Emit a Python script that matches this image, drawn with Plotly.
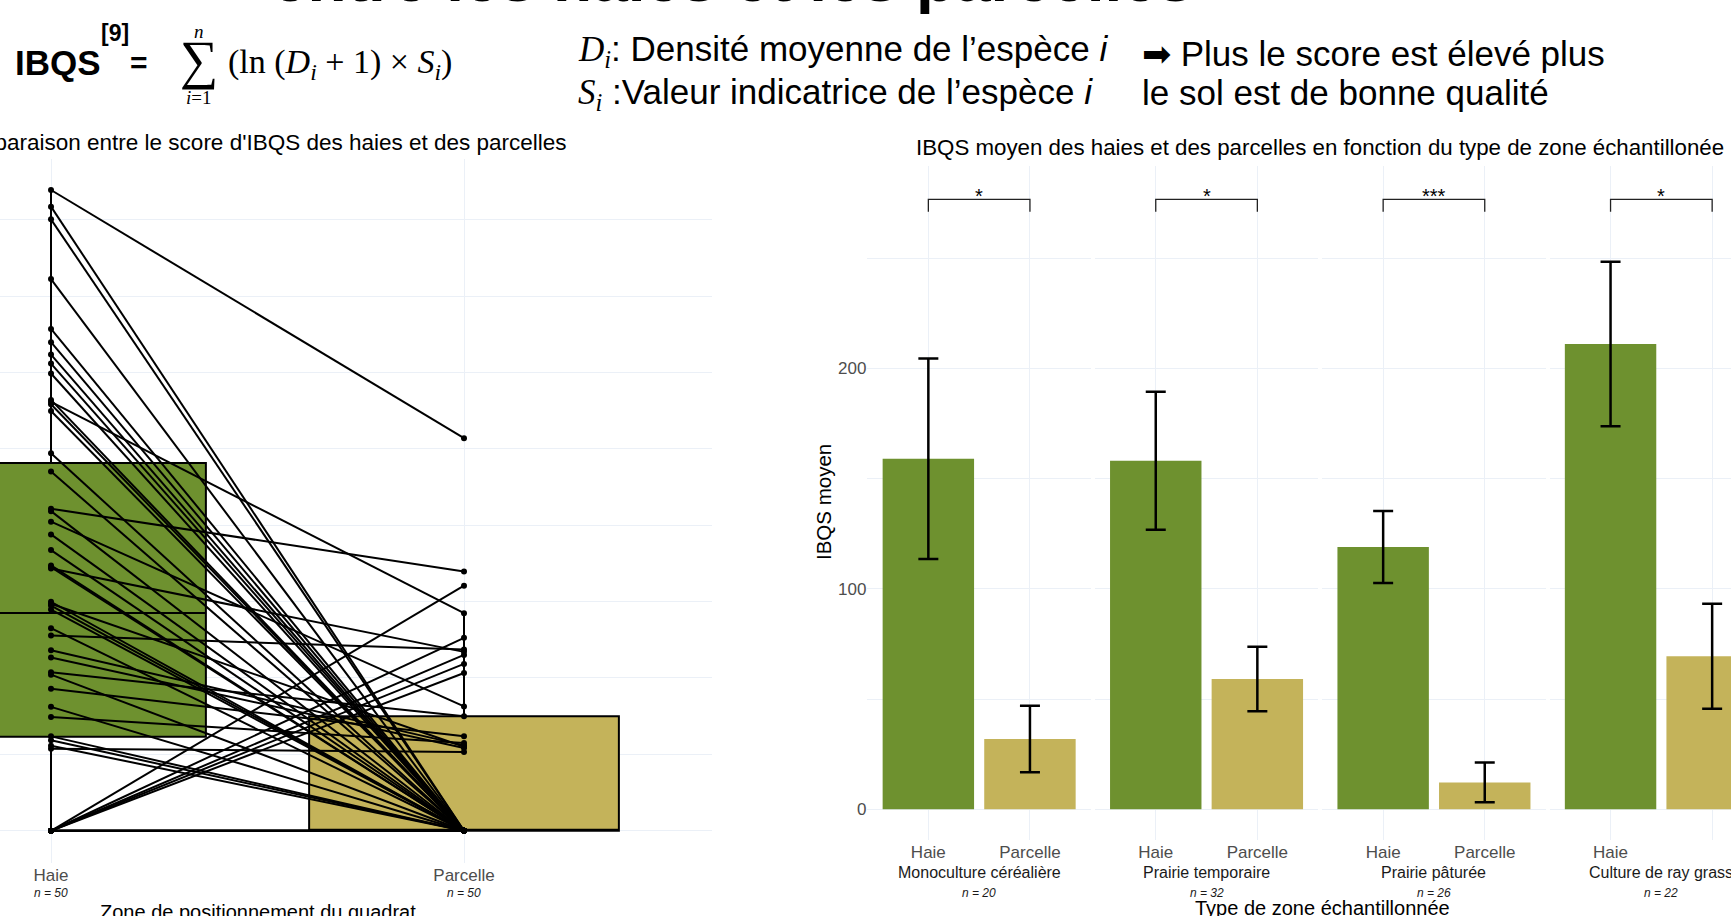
import plotly.graph_objects as go

W, H = 1731, 916
GREEN = "#6E912F"
GOLD = "#C4B35A"
GRID = "#EBF0F7"
TICK = "#4D4D4D"
SANS = "Liberation Sans, Arial, sans-serif"
SERIF = "Liberation Serif, Times New Roman, serif"

# ---------------- data : left panel (paired IBQS per quadrat) ----------------
zones_pos = ["Haie", "Parcelle"]
n_left = [50, 50]
haie_ibqs = [419.4, 408.5, 400.2, 361.1, 328.5, 319.8, 311.7, 305.8, 299.3, 280.7,
             279.2, 274.8, 247.1, 235.1, 210.8, 209.2, 202.3, 194.0, 183.7, 173.7,
             171.7, 149.9, 147.4, 144.8, 132.6, 127.8, 118.2, 113.4, 103.7, 102.2,
             92.9, 81.1, 74.5, 61.8, 59.2, 55.7, 53.7, 282.0, 172.5, 148.6,
             0, 0, 0, 0, 0, 0, 0, 0, 0, 0]
parcelle_ibqs = [257.0, 0, 0, 0, 0, 0, 0, 0, 0, 142.4,
                 0, 0, 0, 0, 169.7, 0, 81.4, 0, 0, 0,
                 117.1, 0, 0, 0, 0, 118.6, 55.9, 54.2, 74.9, 0,
                 61.8, 0, 57.5, 0, 0, 0, 51.6, 0, 0, 55.0,
                 160.4, 126.3, 115.1, 109.2, 103.3, 0, 0, 0, 0, 0]
# box statistics: q1, median, q3, lower fence, upper fence
haie_box = [61.6, 142.5, 240.8, 0.0, 419.4]
parcelle_box = [0.0, 0.0, 74.9, 0.0, 142.4]

# ---------------- data : right panel (mean IBQS by zone type) ----------------
zones = ["Monoculture céréalière", "Prairie temporaire", "Prairie pâturée", "Culture de ray grass"]
zone_n = [20, 32, 26, 22]
haie_mean = [159.0, 158.1, 119.0, 211.1]
haie_err = [45.5, 31.3, 16.3, 37.3]
parc_mean = [31.9, 59.1, 12.2, 69.4]
parc_err = [15.1, 14.6, 9.0, 23.8]
signif = ["*", "*", "***", "*"]
bracket_low, bracket_high = 271.0, 276.6


def px(x):
    return x / W


def py(y):
    return 1 - y / H


fig = go.Figure()

# ---- left panel ----
for i, (stats, col) in enumerate([(haie_box, GREEN), (parcelle_box, GOLD)]):
    fig.add_trace(go.Box(
        x=[i + 1], q1=[stats[0]], median=[stats[1]], q3=[stats[2]],
        lowerfence=[stats[3]], upperfence=[stats[4]],
        width=0.75, fillcolor=col, line=dict(color="black", width=2),
        whiskerwidth=0, boxpoints=False, showlegend=False, xaxis="x", yaxis="y"))

lx, ly = [], []
for h, p in zip(haie_ibqs, parcelle_ibqs):
    lx += [1, 2, None]
    ly += [h, p, None]
fig.add_trace(go.Scatter(x=lx, y=ly, mode="lines", line=dict(color="black", width=2),
                         showlegend=False, xaxis="x", yaxis="y"))
fig.add_trace(go.Scatter(x=[1] * len(haie_ibqs) + [2] * len(parcelle_ibqs),
                         y=haie_ibqs + parcelle_ibqs, mode="markers",
                         marker=dict(color="black", size=6), showlegend=False,
                         xaxis="x", yaxis="y"))

# ---- right panel (4 facets) ----
facet_w = 223.5
unit = facet_w / 2.2
layout_axes = {}
for k in range(4):
    ax = f"x{k + 2}"
    start = 867.4 + k * 227.4
    end = min(start + facet_w, W)
    rng_hi = 0.4 + (end - start) / unit
    layout_axes[f"xaxis{k + 2}"] = dict(
        domain=[px(start), px(end)], range=[0.4, rng_hi], anchor="y2",
        tickvals=[1, 2], ticktext=zones_pos, showgrid=True, gridcolor=GRID,
        zeroline=False, showline=False, ticks="", automargin=False,
        tickfont=dict(family=SANS, size=17, color=TICK))
    fig.add_trace(go.Bar(
        x=[1, 2], y=[haie_mean[k], parc_mean[k]], width=0.9,
        marker=dict(color=[GREEN, GOLD], line=dict(width=0)),
        error_y=dict(type="data", array=[haie_err[k], parc_err[k]], color="black",
                     thickness=2.5, width=10),
        showlegend=False, xaxis=ax, yaxis="y2"))
    fig.add_trace(go.Scatter(
        x=[1, 1, 2, 2], y=[bracket_low, bracket_high, bracket_high, bracket_low],
        mode="lines", line=dict(color="#222222", width=1.3), showlegend=False,
        xaxis=ax, yaxis="y2"))
    fig.add_annotation(x=1.5, y=bracket_high, xref=ax, yref="y2", text=signif[k],
                       showarrow=False, yanchor="bottom", yshift=-10,
                       font=dict(family=SANS, size=20, color="black"))
    fig.add_annotation(x=1.5, y=py(872), xref=ax, yref="paper", text=zones[k],
                       showarrow=False, yanchor="middle",
                       font=dict(family=SANS, size=16, color="#1a1a1a"))
    fig.add_annotation(x=1.5, y=py(893), xref=ax, yref="paper",
                       text=f"<i>n = {zone_n[k]}</i>", showarrow=False, yanchor="middle",
                       font=dict(family=SANS, size=12, color="#1a1a1a"))

for i in range(2):
    fig.add_annotation(x=i + 1, y=py(893), xref="x", yref="paper",
                       text=f"<i>n = {n_left[i]}</i>", showarrow=False, yanchor="middle",
                       font=dict(family=SANS, size=12, color="#1a1a1a"))

fig.update_layout(
    width=W, height=H, margin=dict(l=0, r=0, t=0, b=0, autoexpand=False),
    paper_bgcolor="white", plot_bgcolor="white",
    xaxis=dict(domain=[0, px(711.8)], range=[0.8765, 2.6], tickvals=[1, 2],
               ticktext=zones_pos, showgrid=True, gridcolor=GRID, zeroline=False,
               ticks="", automargin=False,
               tickfont=dict(family=SANS, size=17, color=TICK), anchor="y"),
    yaxis=dict(domain=[py(862.7), py(159)], range=[-20.9, 439.7], dtick=100, tick0=0,
               showgrid=True, gridcolor=GRID, zeroline=False, showticklabels=False,
               automargin=False,
               minor=dict(dtick=50, showgrid=True, gridcolor=GRID), anchor="x"),
    yaxis2=dict(domain=[py(840), py(165.5)], range=[-13.9, 292], dtick=100, tick0=0,
                showgrid=True, gridcolor=GRID, zeroline=False, ticks="", automargin=False,
                tickfont=dict(family=SANS, size=17, color=TICK),
                minor=dict(dtick=50, showgrid=True, gridcolor=GRID), anchor="x2"),
    **layout_axes,
)


def text(t, x, y, size, family=SANS, xanchor="left", yanchor="middle", angle=0, color="black"):
    fig.add_annotation(x=px(x), y=py(y), xref="paper", yref="paper", text=t,
                       showarrow=False, xanchor=xanchor, yanchor=yanchor, textangle=angle,
                       font=dict(family=family, size=size, color=color))


# titles & axis titles
text("<b>entre les haies et les parcelles</b>", 270, -21, 64)
text("Comparaison entre le score d'IBQS des haies et des parcelles", 569, 143, 22.5, xanchor="right")
text("IBQS moyen des haies et des parcelles en fonction du type de zone échantillonée", 1320, 147, 22.3, xanchor="center")
text("Zone de positionnement du quadrat", 258, 912, 20, xanchor="center")
text("Type de zone échantillonnée", 1322, 908, 20, xanchor="center")
text("IBQS moyen", 823, 502, 20.5, xanchor="center", angle=-90)

# formula block
text("<b>IBQS</b>", 13, 63, 35)
text("<b>[9]</b>", 99, 33, 23)
text("<b>=</b>", 139, 63, 30, xanchor="center")
text("∑", 199, 60, 54, family=SERIF, xanchor="center")
text("<i>n</i>", 199, 32, 19, family=SERIF, xanchor="center")
text("<i>i</i>=1", 199, 97, 19, family=SERIF, xanchor="center")
text("(ln (<i>D<sub>i</sub></i> + 1) × <i>S<sub>i</sub></i>)", 226, 64, 34, family=SERIF)
text('<span style="font-family:Liberation Serif"><i>D<sub>i</sub></i></span>: Densité moyenne de l’espèce <i>i</i>', 576, 51, 35)
text('<span style="font-family:Liberation Serif"><i>S<sub>i</sub></i></span> :Valeur indicatrice de l’espèce <i>i</i>', 576, 94, 35)
text("➡ Plus le score est élevé plus", 1140, 54, 35)
text("le sol est de bonne qualité", 1140, 93, 35)

fig.write_html("out.html", config={"displayModeBar": False},
               post_script="document.body.style.margin='0';document.body.style.overflow='hidden';")
